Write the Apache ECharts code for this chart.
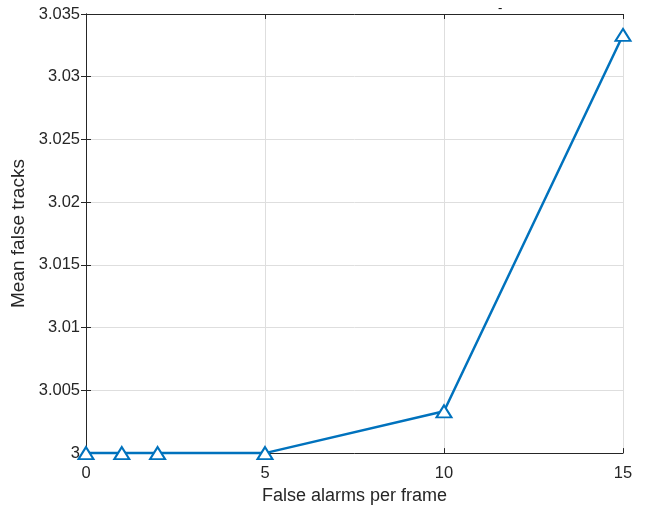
<!DOCTYPE html>
<html><head><meta charset="utf-8">
<script src="https://cdn.jsdelivr.net/npm/echarts@6/dist/echarts.min.js"></script>
<style>html,body{margin:0;padding:0;background:#fff}#c{width:645px;height:510px}</style>
</head><body><div id="c"></div>
<script>
const falseAlarms = [0, 1, 2, 5, 10, 15];
const meanFalseTracks = [3.0, 3.0, 3.0, 3.0, 3.00333, 3.03333];
const xTicks = [0, 5, 10, 15];
const yTicks = [3, 3.005, 3.01, 3.015, 3.02, 3.025, 3.03, 3.035];

const chart = echarts.init(document.getElementById('c'));
const font = 'Liberation Sans, Arial, Helvetica, sans-serif';
const axisLine = {show: true, lineStyle: {color: '#262626', width: 1}};
const tick = {show: true, inside: true, length: 5, lineStyle: {color: '#262626'}};
chart.setOption({
  animation: false,
  backgroundColor: '#fff',
  title: {text: '-', left: 493, top: -3, textStyle: {fontSize: 13, color: '#000', fontWeight: 'normal', fontFamily: font}},
  grid: {left: 86, right: 22, top: 14, bottom: 56, containLabel: false},
  xAxis: [{
    type: 'value', min: 0, max: 15, interval: 5,
    name: 'False alarms per frame', nameLocation: 'middle', nameGap: 33,
    nameTextStyle: {fontSize: 18, color: '#262626', fontFamily: font},
    axisLine: axisLine, axisTick: tick,
    axisLabel: {fontSize: 16.5, color: '#262626', fontFamily: font, margin: 12},
    splitLine: {show: true, lineStyle: {color: '#dedede', width: 1}}
  }, {
    type: 'value', position: 'top', min: 0, max: 15, interval: 5,
    axisLine: axisLine, axisTick: tick, axisLabel: {show: false}, splitLine: {show: false}
  }],
  yAxis: [{
    type: 'value', min: 3, max: 3.035, interval: 0.005,
    name: 'Mean false tracks', nameLocation: 'middle', nameGap: 56, nameRotate: 90,
    nameTextStyle: {fontSize: 19, color: '#262626', fontFamily: font},
    axisLine: axisLine, axisTick: tick,
    axisLabel: {fontSize: 16.5, color: '#262626', fontFamily: font, margin: 6,
      formatter: v => String(+v.toFixed(3))},
    splitLine: {show: true, lineStyle: {color: '#dedede', width: 1}}
  }, {
    type: 'value', position: 'right', min: 3, max: 3.035, interval: 0.005,
    axisLine: axisLine, axisTick: tick, axisLabel: {show: false}, splitLine: {show: false}
  }],
  series: [{
    type: 'line',
    data: falseAlarms.map((x, i) => [x, meanFalseTracks[i]]),
    symbol: 'emptyTriangle', symbolSize: [15, 12],
    clip: false,
    lineStyle: {color: '#0072BD', width: 2.5},
    itemStyle: {color: '#0072BD', borderColor: '#0072BD', borderWidth: 2.5}
  }]
});
</script></body></html>
